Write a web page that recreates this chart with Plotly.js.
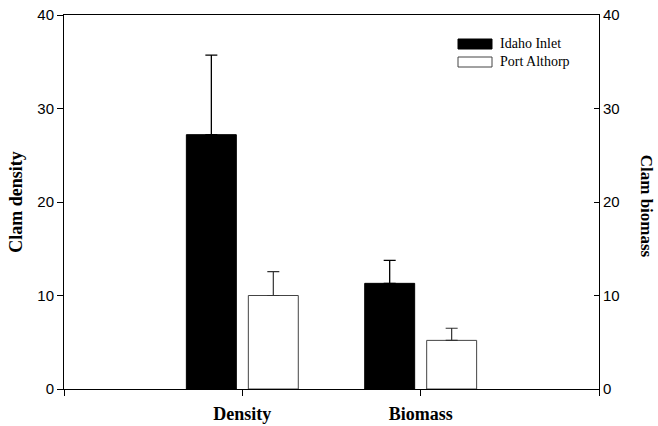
<!DOCTYPE html>
<html>
<head>
<meta charset="utf-8">
<script src="https://cdn.plot.ly/plotly-3.0.1.min.js"></script>
<style>html,body{margin:0;padding:0;background:#fff;}#chart{width:658px;height:426px;}</style>
</head>
<body>
<div id="chart"></div>
<script>
// ---- data ----
const categories = ["Density", "Biomass"];
const categoryPos = [1, 2];
const seriesNames = ["Idaho Inlet", "Port Althorp"];
const idahoValues = [27.2, 11.3];
const idahoErrors = [8.5, 2.45];
const portValues = [10.0, 5.2];
const portErrors = [2.55, 1.3];
const yTickVals = [0, 10, 20, 30, 40];
const xTickVals = [0, 1, 2, 3];
const xTickText = ["", "Density", "Biomass", ""];
const leftTitle = "Clam density";
const rightTitle = "Clam biomass";

const serif = "Liberation Serif, Times New Roman, serif";
const sans = "Liberation Sans, Arial, Helvetica, sans-serif";

const traces = [
  {
    type: "bar", name: seriesNames[0], x: categoryPos, y: idahoValues,
    marker: {color: "#000000", line: {color: "#000000", width: 1}},
    error_y: {type: "data", symmetric: false, array: idahoErrors, arrayminus: [0, 0],
              color: "#000000", thickness: 1.3, width: 6},
    showlegend: false, hoverinfo: "x+y"
  },
  {
    type: "bar", name: seriesNames[1], x: categoryPos, y: portValues,
    marker: {color: "#ffffff", line: {color: "#444444", width: 1}},
    error_y: {type: "data", symmetric: false, array: portErrors, arrayminus: [0, 0],
              color: "#333333", thickness: 1.2, width: 6},
    showlegend: false, hoverinfo: "x+y"
  },
  { // anchor trace so the right-hand axis is drawn
    type: "scatter", mode: "markers", x: [categoryPos[0]], y: [0], yaxis: "y2",
    marker: {opacity: 0}, showlegend: false, hoverinfo: "skip"
  }
];

// manual legend (long flat swatches as in the original)
function px2x(p) { return (p - 64) / 535; }
function px2y(p) { return (389 - p) / 374; }
const legendRows = [44, 62];
const shapes = [];
const annotations = [];
seriesNames.forEach(function (name, i) {
  const cy = legendRows[i];
  shapes.push({
    type: "rect", xref: "paper", yref: "paper",
    x0: px2x(458), x1: px2x(492), y0: px2y(cy + 5), y1: px2y(cy - 5),
    fillcolor: i === 0 ? "#000000" : "#ffffff",
    line: {color: i === 0 ? "#000000" : "#444444", width: 1}
  });
  annotations.push({
    xref: "paper", yref: "paper", x: px2x(498), y: px2y(cy),
    xanchor: "left", yanchor: "middle", showarrow: false, text: name,
    font: {family: serif, size: 14, color: "#000000"}
  });
});
// right axis title reads top-to-bottom in the original
annotations.push({
  xref: "paper", yref: "paper", x: px2x(646), y: 0.49,
  xanchor: "center", yanchor: "middle", showarrow: false, textangle: 90,
  text: rightTitle,
  font: {family: serif, size: 17, weight: "bold", color: "#000000"}
});

const layout = {
  width: 658, height: 426,
  margin: {l: 64, r: 59, t: 15, b: 37},
  paper_bgcolor: "#ffffff", plot_bgcolor: "#ffffff",
  barmode: "group", bargap: 0.305, bargroupgap: 0.194,
  showlegend: false,
  xaxis: {
    range: [0, 3], tickmode: "array", tickvals: xTickVals, ticktext: xTickText,
    showline: true, linecolor: "#000000", linewidth: 1, mirror: true,
    ticks: "outside", ticklen: 6, tickcolor: "#000000", tickwidth: 1,
    showgrid: false, zeroline: false, ticklabelstandoff: 2,
    tickfont: {family: serif, size: 18, weight: "bold", color: "#000000"}
  },
  yaxis: {
    range: [0, 40], tickmode: "array", tickvals: yTickVals,
    showline: true, linecolor: "#000000", linewidth: 1,
    ticks: "outside", ticklen: 6, tickcolor: "#000000", tickwidth: 1,
    showgrid: false, zeroline: false,
    tickfont: {family: sans, size: 15, color: "#000000"},
    title: {text: leftTitle, standoff: 10,
            font: {family: serif, size: 18, weight: "bold", color: "#000000"}}
  },
  yaxis2: {
    range: [0, 40], tickmode: "array", tickvals: yTickVals,
    overlaying: "y", side: "right",
    showline: true, linecolor: "#000000", linewidth: 1,
    ticks: "inside", ticklen: 5, tickcolor: "#000000", tickwidth: 1,
    showgrid: false, zeroline: false,
    tickfont: {family: sans, size: 15, color: "#000000"}
  },
  shapes: shapes,
  annotations: annotations
};

Plotly.newPlot("chart", traces, layout, {displayModeBar: false, staticPlot: true});
</script>
</body>
</html>
